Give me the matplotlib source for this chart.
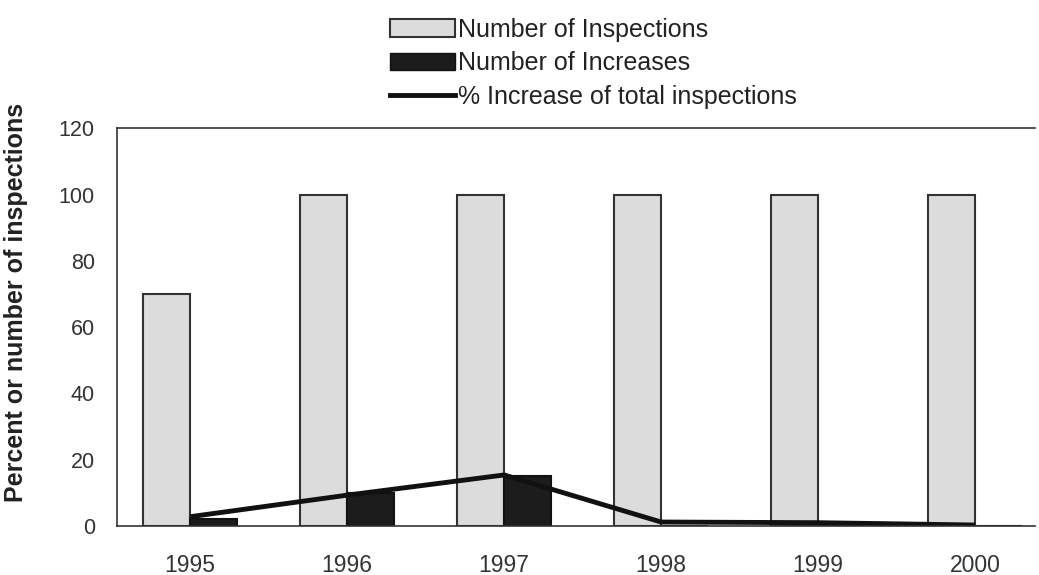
import numpy as np
import matplotlib.pyplot as plt
from matplotlib.patches import Patch
from matplotlib.lines import Line2D

plt.rcParams["font.family"] = ["Liberation Sans", "DejaVu Sans"]

years = ["1995", "1996", "1997", "1998", "1999", "2000"]
inspections = [70, 100, 100, 100, 100, 100]
increases = [2, 10, 15, 0, 0, 0]
pct_increase = [2.8, 9.3, 15.4, 1.2, 1.0, 0.3]

x = np.arange(len(years))
w = 0.3

fig = plt.figure(figsize=(10.39, 5.75), dpi=100)
ax = fig.add_axes([0.1126, 0.0852, 0.8834, 0.6918])

ax.bar(x - w / 2, inspections, w, color="#dcdcdc", edgecolor="#333333", linewidth=1.5)
ax.bar(x + w / 2, increases, w, color="#1c1c1c", edgecolor="#111111", linewidth=1.5)
ax.plot(x, pct_increase, color="#111111", linewidth=3.5, solid_capstyle="butt")

ax.set_xlim(-0.465, 5.38)
ax.set_ylim(0, 120)
ax.set_yticks(range(0, 121, 20))
ax.set_xticks(x)
ax.set_xticklabels(years)
ax.tick_params(axis="both", length=0, colors="#333333")
ax.tick_params(axis="x", labelsize=16.5, pad=20)
ax.tick_params(axis="y", labelsize=15.5, pad=16)

ax.spines["right"].set_visible(False)
for s in ["left", "bottom", "top"]:
    ax.spines[s].set_color("#333333")
    ax.spines[s].set_linewidth(1.2)

ax.set_ylabel("Percent or number of inspections", fontsize=18, fontweight="bold",
              color="#222222")
ax.yaxis.set_label_coords(-0.097, 0.563)

handles = [
    Patch(facecolor="#dcdcdc", edgecolor="#333333", linewidth=1.5, label="Number of Inspections"),
    Patch(facecolor="#1c1c1c", edgecolor="#111111", label="Number of Increases"),
    Line2D([0], [0], color="#111111", linewidth=3.5, label="% Increase of total inspections"),
]
fig.legend(handles=handles, loc="upper left", bbox_to_anchor=(0.361, 0.995), frameon=False,
           fontsize=18, handlelength=2.6, handletextpad=0.1, labelspacing=0.38,
           borderaxespad=0.2, labelcolor="#222222")

fig.savefig("out.png", dpi=100)
